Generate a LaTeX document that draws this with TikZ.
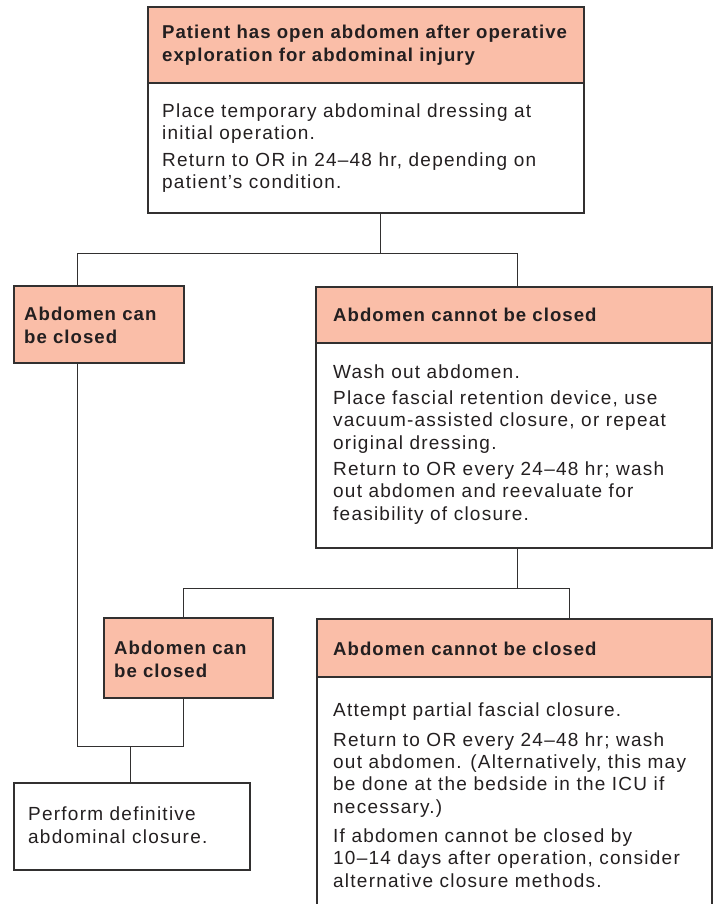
\documentclass[tikz,border=0pt]{standalone}
\usepackage{fontspec}
\setmainfont{Liberation Sans}
\newfontfamily\bodyfont[LetterSpace=6.5]{Liberation Sans}
\newfontfamily\headfont[LetterSpace=5.5]{Liberation Sans}
\definecolor{hdr}{RGB}{250,190,168}
\definecolor{edge}{RGB}{50,48,48}
\definecolor{ink}{RGB}{35,31,32}
\begin{document}
\begin{tikzpicture}[x=1pt,y=-1pt,
  box/.style={draw=edge,line width=1.1pt,anchor=north west,inner sep=0pt,outer sep=0pt,rectangle},
  hbox/.style={box,fill=hdr},
  conn/.style={draw=edge,line width=0.9pt},
  head/.style={anchor=base west,inner sep=0pt,align=left,text=ink,font=\headfont\fontsize{18.6}{23}\selectfont\bfseries},
  body/.style={anchor=base west,inner sep=0pt,align=left,text=ink,font=\bodyfont\fontsize{19}{22.3}\selectfont}]
\useasboundingbox (0,0) rectangle (714,904);

% boxes
\node[box,minimum width=436pt,minimum height=206pt] (top) at (148,7) {};
\node[hbox,minimum width=436pt,minimum height=76pt] (topH) at (148,7) {};
\node[hbox,minimum width=170pt,minimum height=77pt] (can1) at (14,286) {};
\node[box,minimum width=396pt,minimum height=261pt] (cannot1) at (316,287) {};
\node[hbox,minimum width=396pt,minimum height=56pt] (cannot1H) at (316,287) {};
\node[hbox,minimum width=169pt,minimum height=80pt] (can2) at (104,618) {};
\node[box,minimum width=395pt,minimum height=300pt] (cannot2) at (317,619) {};
\node[hbox,minimum width=395pt,minimum height=58pt] (cannot2H) at (317,619) {};
\node[box,minimum width=236pt,minimum height=87pt] (final) at (14,783) {};

% texts (anchored at the baseline of the last line)
\node[head] (t1) at (162,62) {Patient has open abdomen after operative\\exploration for abdominal injury};
\node[body] (t2) at (162,189) {Place temporary abdominal dressing at\\initial operation.\\[5pt]Return to OR in 24–48 hr, depending on\\patient’s condition.};
\node[head] (t3) at (24,343) {Abdomen can\\be closed};
\node[head] (t4) at (333,321) {Abdomen cannot be closed};
\node[body] (t5) at (333,520) {Wash out abdomen.\\[4pt]Place fascial retention device, use\\vacuum-assisted closure, or repeat\\original dressing.\\[4pt]Return to OR every 24–48 hr; wash\\out abdomen and reevaluate for\\feasibility of closure.};
\node[head] (t6) at (114,677) {Abdomen can\\be closed};
\node[head] (t7) at (333,655) {Abdomen cannot be closed};
\node[body] (t8) at (333,887) {Attempt partial fascial closure.\\[7pt]Return to OR every 24–48 hr; wash\\out abdomen. (Alternatively, this may\\be done at the bedside in the ICU if\\necessary.)\\[7pt]If abdomen cannot be closed by\\10–14 days after operation, consider\\alternative closure methods.};
\node[body] (t9) at (28,843) {Perform definitive\\abdominal closure.};

% junction points
\coordinate (j1) at (380,253);
\coordinate (l1) at (77,253);
\coordinate (r1) at (517,253);
\coordinate (j2) at (517,588);
\coordinate (l2) at (183,588);
\coordinate (r2) at (569,588);
\coordinate (ml) at (77,746);
\coordinate (mr) at (183,746);
\coordinate (m) at (130,746);

% connectors
\draw[conn] (top.south -| j1) -- (j1);
\draw[conn] (can1.north -| l1) -- (l1) -- (r1) -- (cannot1.north -| r1);
\draw[conn] (cannot1.south -| j2) -- (j2);
\draw[conn] (can2.north -| l2) -- (l2) -- (r2) -- (cannot2.north -| r2);
\draw[conn] (can1.south -| ml) -- (ml) -- (mr) -- (can2.south -| mr);
\draw[conn] (m) -- (final.north -| m);
\end{tikzpicture}
\end{document}
